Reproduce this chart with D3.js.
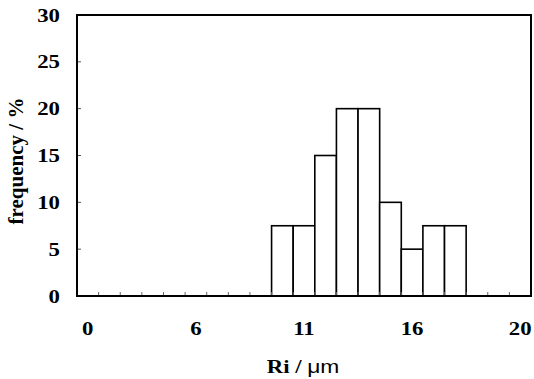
<!DOCTYPE html>
<html>
<head>
<meta charset="utf-8">
<script src="https://cdn.jsdelivr.net/npm/d3@7"></script>
<style>
  body { margin: 0; background: #fff; }
  text { font-family: "Liberation Serif", "Times New Roman", serif; font-weight: bold; fill: #000; }
</style>
</head>
<body>
<div id="chart"></div>
<script>
// bins along the Ri axis (21 categories, only some labelled)
var bins = ["0","1","2","3","4","5","6","7","8","9","10","11","12","13","14","15","16","17","18","19","20"];
var freq = [0,0,0,0,0,0,0,0,0,7.5,7.5,15,20,20,10,5,7.5,7.5,0,0,0];
var xTickBins = ["0","5","10","15","20"];
var xTickLabels = ["0","6","11","16","20"];
var yTicks = [0,5,10,15,20,25,30];

var W = 534, H = 379;
var margin = {left: 77, right: 3, top: 15, bottom: 83};
var STRETCH = 1.2; // the original type looks a bit wide

var svg = d3.select("#chart")
  .append("svg")
    .attr("width", W)
    .attr("height", H);

var x = d3.scaleBand()
  .domain(bins)
  .range([margin.left, W - margin.right])
  .paddingInner(0)
  .paddingOuter(0);

var y = d3.scaleLinear()
  .domain([0, 30])
  .range([H - margin.bottom, margin.top]);

// bars
svg.append("g")
  .selectAll("rect")
  .data(freq.map(function(v, i) { return {bin: bins[i], v: v}; }).filter(function(d) { return d.v > 0; }))
  .enter()
  .append("rect")
    .attr("x", function(d) { return x(d.bin); })
    .attr("y", function(d) { return y(d.v); })
    .attr("width", x.bandwidth())
    .attr("height", function(d) { return y(0) - y(d.v); })
    .attr("fill", "#fff")
    .attr("stroke", "#000")
    .attr("stroke-width", 1.6);

// small inward ticks at category boundaries
svg.append("g")
  .selectAll("line")
  .data(bins.slice(1))
  .enter()
  .append("line")
    .attr("x1", function(d) { return x(d); })
    .attr("x2", function(d) { return x(d); })
    .attr("y1", y(0))
    .attr("y2", y(0) - 4)
    .attr("stroke", "#666")
    .attr("stroke-width", 1);

// y ticks (inward) + labels
var yAxis = svg.append("g");
yAxis.selectAll("line")
  .data(yTicks.slice(1, -1))
  .enter()
  .append("line")
    .attr("x1", margin.left)
    .attr("x2", margin.left + 4)
    .attr("y1", function(d) { return y(d); })
    .attr("y2", function(d) { return y(d); })
    .attr("stroke", "#555")
    .attr("stroke-width", 1);

yAxis.selectAll("text")
  .data(yTicks)
  .enter()
  .append("text")
    .attr("transform", function(d) { return "translate(60," + (y(d) + 6.5) + ") scale(" + STRETCH + ",1)"; })
    .attr("text-anchor", "end")
    .style("font-size", "19px")
    .text(function(d) { return d; });

// x labels
svg.append("g")
  .selectAll("text")
  .data(xTickBins)
  .enter()
  .append("text")
    .attr("transform", function(d) { return "translate(" + (x(d) + x.bandwidth() / 2) + ",335) scale(" + STRETCH + ",1)"; })
    .attr("text-anchor", "middle")
    .style("font-size", "19px")
    .text(function(d, i) { return xTickLabels[i]; });

// frame
svg.append("rect")
  .attr("x", margin.left)
  .attr("y", margin.top)
  .attr("width", W - margin.right - margin.left)
  .attr("height", y(0) - margin.top)
  .attr("fill", "none")
  .attr("stroke", "#000")
  .attr("stroke-width", 2);

// axis titles
var xt = svg.append("text")
  .attr("transform", "translate(303,373) scale(" + STRETCH + ",1)")
  .attr("text-anchor", "middle")
  .style("font-size", "19px");
xt.append("tspan").text("Ri / ");
xt.append("tspan")
  .style("font-family", "'Liberation Sans', Arial, sans-serif")
  .style("font-weight", "normal")
  .text("μm");

svg.append("text")
  .attr("transform", "translate(23,161) rotate(-90)")
  .attr("text-anchor", "middle")
  .style("font-size", "21px")
  .text("frequency / %");
</script>
</body>
</html>
